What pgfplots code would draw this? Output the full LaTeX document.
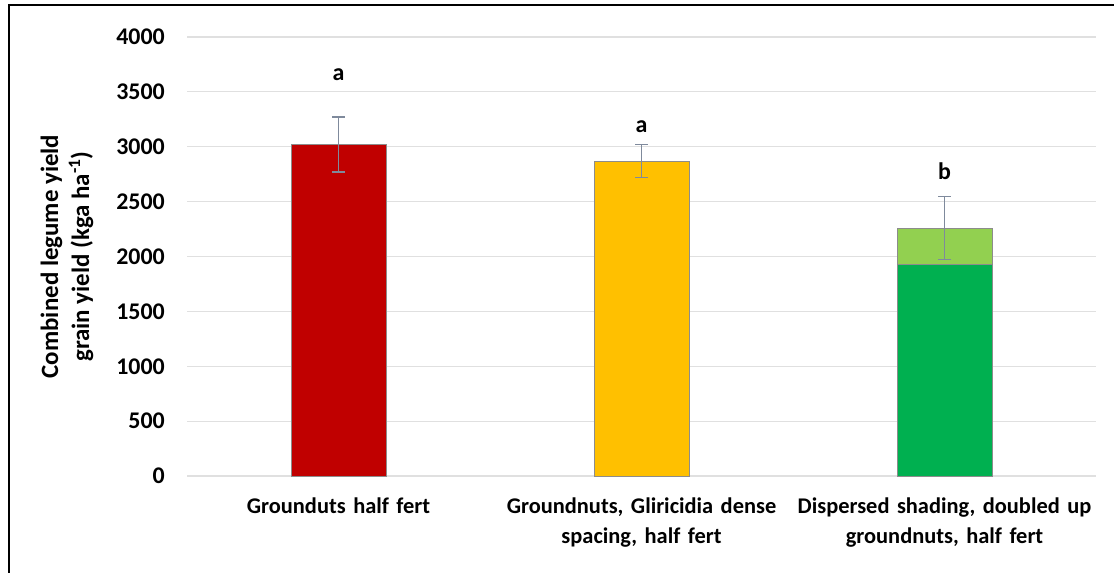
\documentclass[border=0pt]{standalone}
\usepackage{fontspec}
\setmainfont{Carlito}
\usepackage{pgfplots}
\pgfplotsset{compat=1.18}
\definecolor{barred}{HTML}{C00000}
\definecolor{baryellow}{HTML}{FFC000}
\definecolor{bargreen}{HTML}{00B050}
\definecolor{barlight}{HTML}{92D050}
\definecolor{errc}{HTML}{7F8A9C}
\begin{document}
\begin{tikzpicture}
\path[use as bounding box] (0bp,0bp) rectangle (1114bp,-573bp);
\draw[line width=2.2bp] (9bp,-573bp) -- (9bp,-5bp) -- (1114bp,-5bp);
\begin{axis}[
  at={(187bp,-476bp)}, anchor=south west,
  scale only axis, width=909bp, height=439bp,
  xmin=-0.5, xmax=2.5, ymin=0, ymax=4000,
  axis line style={draw=none},
  ymajorgrids, grid style={color=black!12, line width=1.2bp},
  ytick={0,500,...,4000},
  xtick={0,1,2},
  xticklabels={Grounduts half fert,
    {Groundnuts, Gliricidia dense\\spacing, half fert},
    {Dispersed shading, doubled up\\groundnuts, half fert}},
  major tick length=0pt,
  /pgf/number format/assume math mode=true,
  /pgf/number format/1000 sep={},
  yticklabel style={font=\fontsize{24}{28}\selectfont\bfseries, anchor=east, inner sep=0pt, xshift=-22bp},
  xticklabel style={font=\fontsize{22.5}{30}\selectfont\bfseries, text width=320bp, align=center, anchor=north, inner sep=0pt, yshift=-22bp},
  ylabel={Combined legume yield\\grain yield (kga ha\textsuperscript{-1})},
  ylabel style={font=\fontsize{25}{31}\selectfont\bfseries, align=center, at={(axis description cs:-0.132,0.5)}, anchor=center},
  every axis plot/.append style={ybar, bar width=95bp, bar shift=0pt, draw=black!45, line width=1bp},
  error bars/error mark=-,
  error bars/error bar style={color=errc, line width=1.5bp},
  error bars/error mark options={rotate=90, color=errc, line width=1.5bp, mark size=6.5bp},
  clip=false,
]
\addplot[fill=barred, error bars/.cd, y dir=both, y explicit] coordinates {(0,3020) +- (0,250)};
\addplot[fill=baryellow, error bars/.cd, y dir=both, y explicit] coordinates {(1,2870) +- (0,150)};
\addplot[fill=barlight, error bars/.cd, y dir=both, y explicit] coordinates {(2,2258) +- (0,287)};
\addplot[fill=bargreen] coordinates {(2,1930)};
\addplot[draw=errc, line width=1.5bp, sharp plot, forget plot] coordinates {(2,1971) (2,2258)};
\node[font=\fontsize{24}{28}\selectfont\bfseries, anchor=base] at (axis cs:0,3608) {a};
\node[font=\fontsize{24}{28}\selectfont\bfseries, anchor=base] at (axis cs:1,3128) {a};
\node[font=\fontsize{24}{28}\selectfont\bfseries, anchor=base] at (axis cs:2,2703) {b};
\end{axis}
\end{tikzpicture}
\end{document}
